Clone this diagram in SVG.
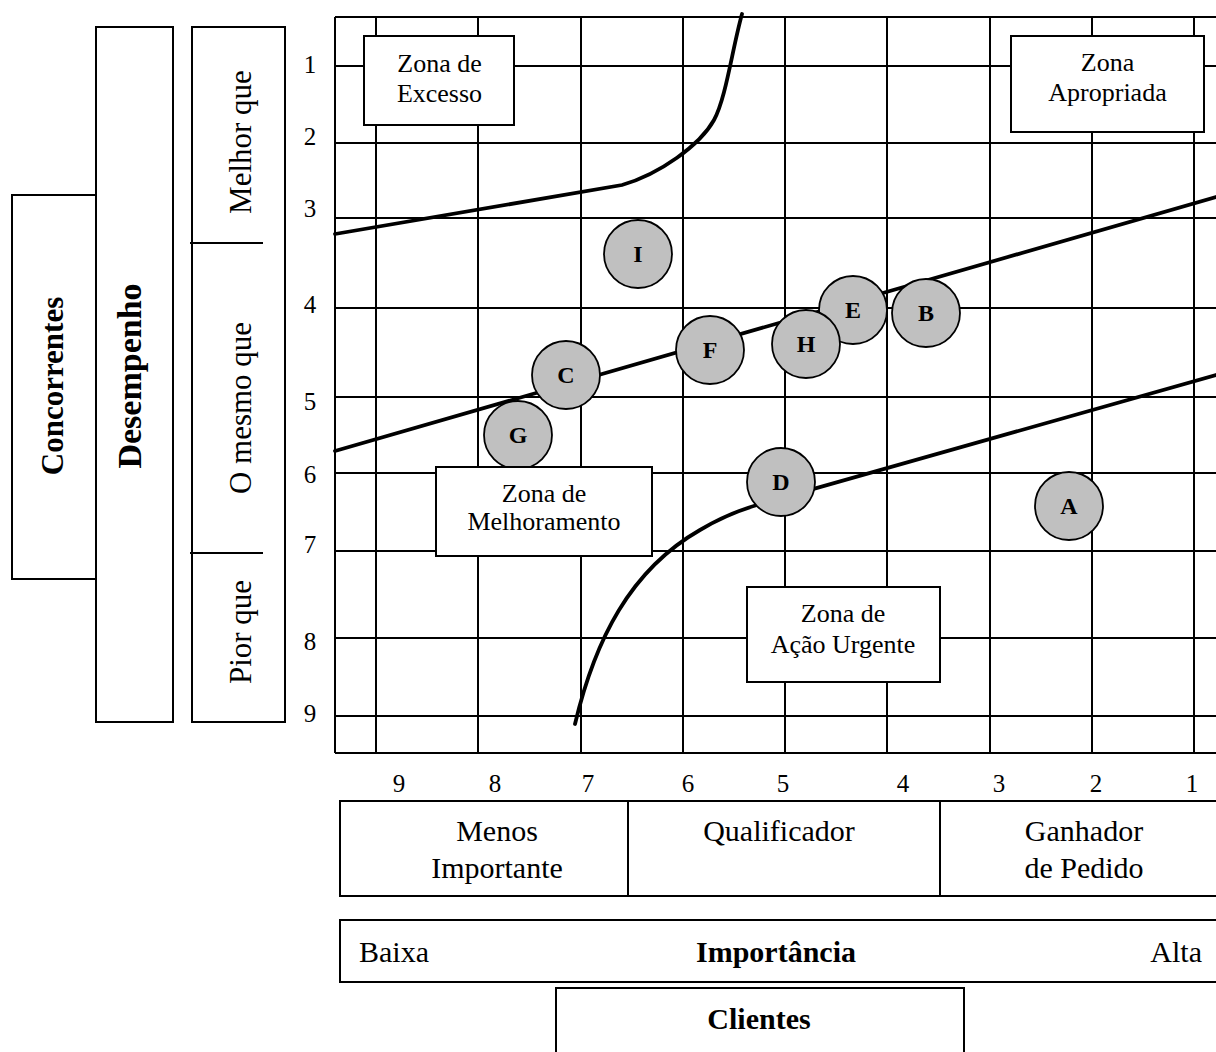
<svg xmlns="http://www.w3.org/2000/svg" width="1216" height="1052" viewBox="0 0 1216 1052">
<style>
.t{font-family:"Liberation Serif","Times New Roman",serif;fill:#000}
.num{font-size:25px;text-anchor:middle}
.zone{font-size:26px;text-anchor:middle}
.big{font-size:30px}
.side{font-size:31px;text-anchor:middle}
.b{font-weight:bold}
.grid{stroke:#000;stroke-width:2;fill:none}
.curve{stroke:#000;stroke-width:3.8;fill:none;stroke-linecap:round}
.box{fill:#fff;stroke:#000;stroke-width:2}
.pt{fill:#c0c0c0;stroke:#000;stroke-width:1.8}
.lbl{font-size:24px;font-weight:bold;text-anchor:middle}
</style>
<rect width="1216" height="1052" fill="#fff"/>
<g id="grid" class="grid">
<path d="M335,17 H1216 M335,753 H1216 M335,17 V753"/>
<path d="M335,66 H1216 M335,143 H1216 M335,218 H1216 M335,308 H1216 M335,397 H1216 M335,473 H1216 M335,551 H1216 M335,638 H1216 M335,716 H1216"/>
<path d="M376,17 V753 M478,17 V753 M581,17 V753 M683,17 V753 M785,17 V753 M887,17 V753 M990,17 V753 M1092,17 V753 M1194,17 V753"/>
</g>
<g id="axis-labels" class="t num">
<text x="310" y="73">1</text><text x="310" y="145">2</text><text x="310" y="217">3</text>
<text x="310" y="313">4</text><text x="310" y="410">5</text><text x="310" y="483">6</text>
<text x="310" y="553">7</text><text x="310" y="650">8</text><text x="310" y="722">9</text>
<text x="399" y="792">9</text><text x="495" y="792">8</text><text x="588" y="792">7</text>
<text x="688" y="792">6</text><text x="783" y="792">5</text><text x="903" y="792">4</text>
<text x="999" y="792">3</text><text x="1096" y="792">2</text><text x="1192" y="792">1</text>
</g>
<g id="connectors">
<path class="curve" d="M335,234 L622,185 C660,174 700,145 714,120 C726,98 732,50 742,14"/>
<path class="curve" d="M335,451 L1216,197"/>
<path class="curve" d="M575,724 C595,640 630,570 700,530 C720,518 740,510 757,505 L1216,375"/>
</g>
<g id="zone-excesso"><rect class="box" x="364" y="36" width="150" height="89"/>
<text class="t zone" x="439.5" y="72">Zona de</text><text class="t zone" x="439.5" y="102">Excesso</text></g>
<g id="zone-apropriada"><rect class="box" x="1011" y="36" width="193" height="96"/>
<text class="t zone" x="1107.5" y="71">Zona</text><text class="t zone" x="1107.5" y="101">Apropriada</text></g>
<g id="point-I"><circle class="pt" cx="638" cy="254" r="34"/><text class="t lbl" x="638" y="262">I</text></g>
<g id="point-C"><circle class="pt" cx="566" cy="375" r="34"/><text class="t lbl" x="566" y="383">C</text></g>
<g id="point-F"><circle class="pt" cx="710" cy="350" r="34"/><text class="t lbl" x="710" y="358">F</text></g>
<g id="point-G"><circle class="pt" cx="518" cy="435" r="34"/><text class="t lbl" x="518" y="443">G</text></g>
<g id="point-E"><circle class="pt" cx="853" cy="310" r="34"/><text class="t lbl" x="853" y="318">E</text></g>
<g id="point-H"><circle class="pt" cx="806" cy="344" r="34"/><text class="t lbl" x="806" y="352">H</text></g>
<g id="point-B"><circle class="pt" cx="926" cy="313" r="34"/><text class="t lbl" x="926" y="321">B</text></g>
<g id="point-D"><circle class="pt" cx="781" cy="482" r="34"/><text class="t lbl" x="781" y="490">D</text></g>
<g id="point-A"><circle class="pt" cx="1069" cy="506" r="34"/><text class="t lbl" x="1069" y="514">A</text></g>
<g id="zone-melhoramento"><rect class="box" x="436" y="467" width="216" height="89"/>
<text class="t zone" x="544" y="502">Zona de</text><text class="t zone" x="544" y="530">Melhoramento</text></g>
<g id="zone-urgente"><rect class="box" x="747" y="587" width="193" height="95"/>
<text class="t zone" x="843" y="622">Zona de</text><text class="t zone" x="843" y="653">Ação Urgente</text></g>
<g id="concorrentes"><rect class="box" x="12" y="195" width="84" height="384"/>
<text class="t side b" x="63" y="386" transform="rotate(-90 63 386)">Concorrentes</text></g>
<g id="desempenho"><rect class="box" x="96" y="27" width="77" height="695"/>
<text class="t side b" style="font-size:34px" x="141" y="376" transform="rotate(-90 141 376)">Desempenho</text></g>
<g id="comparacao"><rect class="box" x="192" y="27" width="93" height="695"/>
<path class="grid" d="M190,243 H263 M190,553 H263"/>
<text class="t side" x="251" y="142" transform="rotate(-90 251 142)">Melhor que</text>
<text class="t side" x="251" y="408" transform="rotate(-90 251 408)">O mesmo que</text>
<text class="t side" x="251" y="632" transform="rotate(-90 251 632)">Pior que</text></g>
<g id="categorias"><rect class="box" x="340" y="801" width="900" height="95"/>
<path class="grid" d="M628,801 V896 M940,801 V896"/>
<text class="t big" text-anchor="middle" x="497" y="841">Menos</text>
<text class="t big" text-anchor="middle" x="497" y="878">Importante</text>
<text class="t big" text-anchor="middle" x="779" y="841">Qualificador</text>
<text class="t big" text-anchor="middle" x="1084" y="841">Ganhador</text>
<text class="t big" text-anchor="middle" x="1084" y="878">de Pedido</text></g>
<g id="importancia"><rect class="box" x="340" y="920" width="900" height="62"/>
<text class="t big" x="359" y="962">Baixa</text>
<text class="t big b" text-anchor="middle" x="776" y="962">Importância</text>
<text class="t big" text-anchor="end" x="1202" y="962">Alta</text></g>
<g id="clientes"><rect class="box" x="556" y="988" width="408" height="80"/>
<text class="t big b" text-anchor="middle" x="759" y="1029">Clientes</text></g>
</svg>
